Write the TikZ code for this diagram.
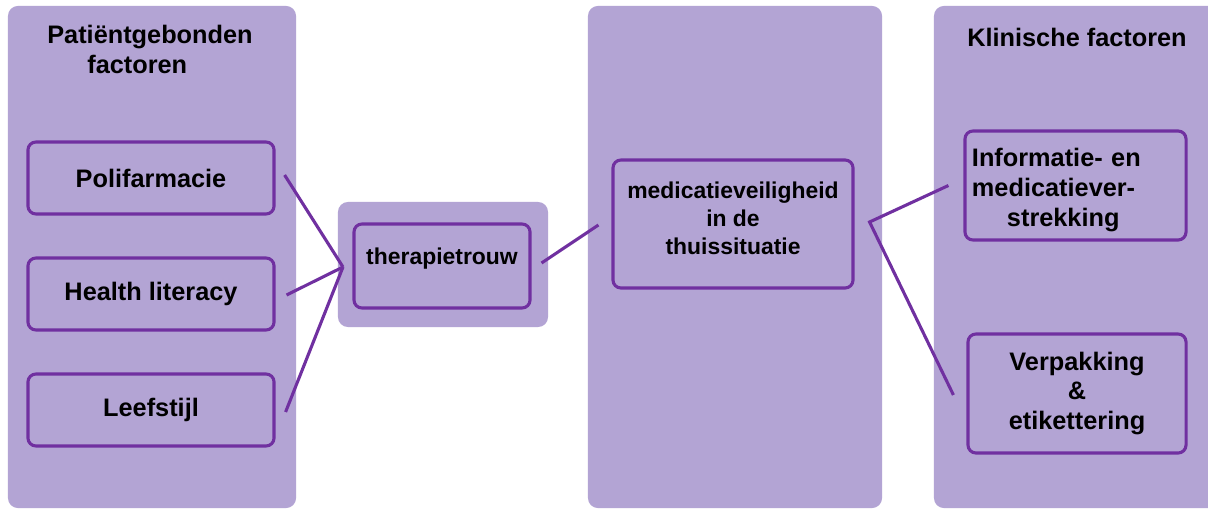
\documentclass[tikz,border=0pt]{standalone}
\usepackage{fontspec}
\setmainfont{Liberation Sans}
\usepackage{tikz}
\usetikzlibrary{positioning, calc}
\definecolor{panellilac}{RGB}{179,164,212}
\definecolor{borderpurple}{RGB}{112,48,160}

\tikzset{
    panel/.style={fill=panellilac, draw=none, rounded corners=10*0.025cm, inner sep=0pt},
    factor/.style={draw=borderpurple, line width=2.2pt, rounded corners=8*0.025cm, fill=panellilac,
        align=center, inner sep=0pt, font=\bfseries\fontsize{18}{21.3}\selectfont},
    midfactor/.style={factor, font=\bfseries\fontsize{16.3}{19.9}\selectfont},
    heading/.style={font=\bfseries\fontsize{18}{21.3}\selectfont},
    link/.style={draw=borderpurple, line width=2.2pt}
}

\begin{document}
\begin{tikzpicture}[x=0.025cm, y=-0.025cm]
    \useasboundingbox (0,0) rectangle (1208,512);
    \fill[white] (0,0) rectangle (1208,512);

    % Background panels
    \node[panel, minimum width=7.2cm, minimum height=12.55cm] (patpanel) at (152,257) {};
    \node[panel, minimum width=7.35cm, minimum height=12.55cm] (midpanel) at (735,257) {};
    \node[panel, minimum width=7.4cm, minimum height=12.55cm] (klinpanel) at (1082,257) {};
    \node[panel, minimum width=5.25cm, minimum height=3.125cm] (trouwbg) at (443,264.5) {};

    % Panel headings
    \node[heading, align=left] (pattitle) at (150,49) {Patiëntgebonden\\\hspace*{1cm}factoren};
    \node[heading] (klintitle) at (1077,37) {Klinische factoren};

    % Patient factors
    \foreach \nm/\txt/\y in {poli/Polifarmacie/178, health/Health literacy/294, leef/Leefstijl/410} {
        \node[factor, minimum width=6.15cm, minimum height=1.8cm] (\nm) at (151,\y) {\txt};
    }

    % Middle nodes
    \node[midfactor, minimum width=4.4cm, minimum height=2.1cm, text height=0.45cm, text depth=0.55cm] (trouw) at (442,266) {therapietrouw};
    \node[midfactor, minimum width=6cm, minimum height=3.2cm] (veilig) at (733,224)
        {medicatieveiligheid\\in de\\thuissituatie\rule[-0.3cm]{0pt}{0pt}};

    % Clinical factors
    \node[factor, minimum width=5.525cm, minimum height=2.725cm, text width=5.175cm, align=left] (info) at (1075.5,185.5)
        {\rule{0pt}{0.7cm}Informatie- en\\medicatiever-\\\hspace*{0.875cm}strekking};
    \node[factor, minimum width=5.45cm, minimum height=2.975cm] (verp) at (1077,393.5)
        {Verpakking\\\&\\etikettering};

    % Connectors
    \coordinate (join) at (343,267);
    \coordinate (fork) at ($(veilig.east)+(15,-2)$);
    \draw[link] ($(poli.east)+(9,-3)$) -- (join);
    \draw[link] ($(health.east)+(11,1)$) -- (join);
    \draw[link] ($(leef.east)+(10,2)$) -- (join);
    \draw[link] ($(trouw.east)+(10,-3)$) -- ($(veilig.west)+(-13,1)$);
    \draw[link] ($(info.west)+(-15,0)$) -- (fork) -- ($(verp.west)+(-13,1.5)$);
\end{tikzpicture}
\end{document}
